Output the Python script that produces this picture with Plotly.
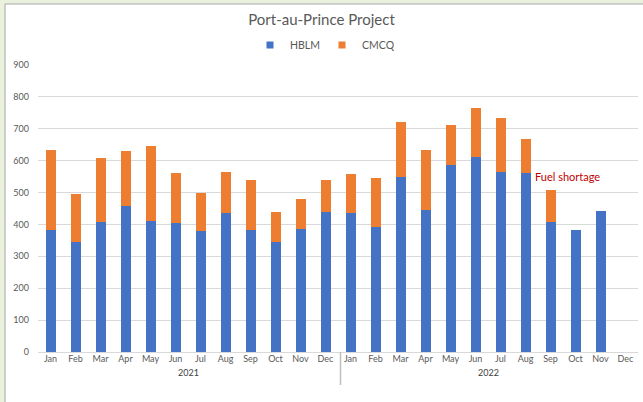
import plotly.graph_objects as go

months = ["Jan", "Feb", "Mar", "Apr", "May", "Jun", "Jul", "Aug", "Sep", "Oct", "Nov", "Dec"]
years = ["2021", "2022"]
hblm = [382, 346, 408, 457, 410, 403, 378, 437, 382, 346, 385, 440,
        437, 393, 549, 444, 585, 610, 563, 560, 408, 384, 441, None]
cmcq_total = [632, 494, 609, 630, 645, 560, 500, 563, 538, 440, 480, 540,
              557, 545, 721, 632, 712, 764, 734, 669, 509, None, None, None]
cmcq = [(t - h) if (t is not None and h is not None) else None for t, h in zip(cmcq_total, hblm)]

tick_labels = months * len(years)
x_idx = list(range(len(tick_labels)))

# pixel geometry helpers
W, H = 643, 402
ML, MR, MT, MB = 38, 5, 65, 50
PW, PH = W - ML - MR, H - MT - MB
def px(xp):
    return (xp - ML) / PW
def py(yp):
    return (H - MB - yp) / PH

BLUE = "#4472C4"
ORANGE = "#ED7D31"
GREY = "#595959"
FONT = "Lato"

fig = go.Figure()
fig.add_trace(go.Bar(x=x_idx, y=hblm, name="HBLM", legendgroup="h", showlegend=False,
                     marker=dict(color=BLUE, line=dict(width=0))))
fig.add_trace(go.Bar(x=x_idx, y=cmcq, name="CMCQ", legendgroup="c", showlegend=False,
                     marker=dict(color=ORANGE, line=dict(width=0))))
# legend entries with small square keys, as in the original
fig.add_trace(go.Scatter(x=[None], y=[None], mode="markers", name="HBLM", legendgroup="h",
                         marker=dict(symbol="square", size=7, color=BLUE)))
fig.add_trace(go.Scatter(x=[None], y=[None], mode="markers", name="CMCQ", legendgroup="c",
                         marker=dict(symbol="square", size=7, color=ORANGE)))

shapes = [
    dict(type="rect", xref="paper", yref="paper", x0=px(5), x1=px(660), y0=py(4), y1=py(420),
         fillcolor="white", line=dict(color="#A6A6A6", width=1), layer="below"),
    dict(type="line", xref="x", yref="paper", x0=11.6, x1=11.6, y0=0, y1=py(385),
         line=dict(color="#BFBFBF", width=1.5)),
]

annotations = [
    dict(x=5.5, y=py(380), xref="x", yref="paper", text=years[0], showarrow=False,
         font=dict(size=9, color="#404040", family=FONT)),
    dict(x=17.5, y=py(380), xref="x", yref="paper", text=years[1], showarrow=False,
         font=dict(size=9, color="#404040", family=FONT)),
    dict(x=19.28, y=550, xref="x", yref="y", text="Fuel shortage", showarrow=False,
         xanchor="left", yanchor="middle", font=dict(size=11, color="#C00000", family=FONT)),
]

fig.update_layout(
    width=W, height=H,
    margin=dict(l=ML, r=MR, t=MT, b=MB),
    barmode="stack", bargap=0.6,
    paper_bgcolor="#EAF1DD", plot_bgcolor="white",
    font=dict(family=FONT, color=GREY),
    title=dict(text="Port-au-Prince Project", x=0.5, xref="container", xanchor="center",
               y=1 - 20 / H, yref="container", yanchor="middle",
               font=dict(size=15, color=GREY, family=FONT)),
    legend=dict(orientation="h", x=px(322), xanchor="center", y=py(45), yanchor="middle",
                font=dict(size=10.5, color=GREY, family=FONT), itemwidth=30,
                entrywidth=27, bgcolor="rgba(0,0,0,0)", traceorder="normal"),
    xaxis=dict(tickmode="array", tickvals=x_idx, ticktext=tick_labels, range=[-0.5, 23.5],
               showgrid=False, zeroline=False, showline=False, ticks="",
               tickfont=dict(size=9, color=GREY, family=FONT)),
    yaxis=dict(range=[0, 900], dtick=100, showgrid=True, gridcolor="#D9D9D9", gridwidth=1,
               zeroline=True, zerolinecolor="#D9D9D9", zerolinewidth=1, showline=False, ticks="",
               tickfont=dict(size=9, color=GREY, family=FONT), ticklabelstandoff=8),
    shapes=shapes,
    annotations=annotations,
)

fig.write_html(
    "out.html",
    config={"displayModeBar": False},
    post_script="document.body.style.margin='0';document.body.style.overflow='hidden';"
                "document.body.style.background='#EAF1DD';",
)
